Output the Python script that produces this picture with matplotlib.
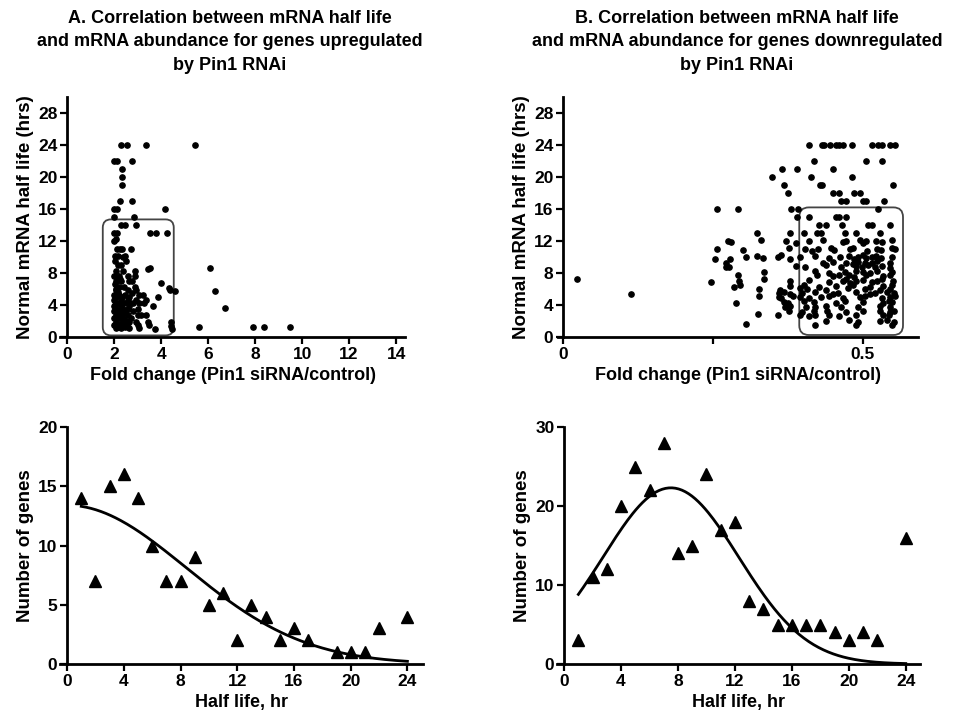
import numpy as np
import matplotlib
matplotlib.use('Agg')
import matplotlib.pyplot as plt
from matplotlib.patches import FancyBboxPatch

plt.rcParams['font.family'] = ['Liberation Sans', 'DejaVu Sans']
plt.rcParams['font.weight'] = 'bold'
plt.rcParams['axes.labelweight'] = 'bold'

# --- A (top): fold change vs half life, upregulated genes
a_fold = [2.30, 2.55, 3.35, 5.45,
          2.00, 2.12, 2.75,
          2.35, 2.35, 2.35,
          2.25, 2.75,
          2.00, 2.12, 4.15,
          2.00, 2.85,
          2.30, 2.45, 2.95,
          2.00, 2.12, 3.55, 3.80, 4.25,
          2.00, 2.10,
          2.12, 2.25, 2.35, 2.72,
          2.05, 2.18, 2.36, 2.46,
          2.05, 2.50, 2.16, 2.30,
          3.45, 3.55, 6.10,
          2.10, 2.38, 2.90,
          2.00, 2.23, 2.58, 2.90, 2.25,
          2.10, 2.30, 2.65, 2.77, 2.05,
          4.00,
          2.20, 2.44, 2.87, 2.10,
          4.35,
          2.09, 2.58, 2.94, 4.40, 2.15,
          4.60, 6.30,
          2.00, 2.23, 2.48, 3.08, 3.22, 2.75,
          2.10, 2.65, 3.86, 2.35,
          2.00, 2.30, 2.58, 2.94, 3.37, 2.60,
          2.09, 2.23, 2.44, 2.80, 3.08, 3.29,
          2.00, 2.30, 2.65, 3.65, 2.05,
          6.70,
          2.10, 2.37, 2.58, 3.00,
          2.00, 2.23, 2.48, 2.80, 2.40,
          2.09, 2.30, 2.58, 3.00, 3.15, 3.37, 2.15,
          2.00, 2.20, 2.44, 2.72, 2.50,
          2.10, 2.34, 2.65, 2.94, 3.44, 4.42,
          2.00, 2.15, 2.37, 2.55, 3.00, 3.50, 4.44, 2.45,
          2.09, 2.30, 2.65, 3.08, 3.76, 4.47, 2.20,
          5.60, 7.90, 8.40, 9.50]
a_half = [24, 24, 24, 24,
          22, 22, 22,
          21, 20, 19,
          17, 17,
          16, 16, 16,
          15, 15,
          14, 14, 14,
          13, 13, 13, 13, 13,
          12, 12.3,
          11, 11, 11, 11,
          10.1, 10.1, 10.0, 10.1,
          9.5, 9.5, 9.0, 9.0,
          8.5, 8.6, 8.6,
          8.2, 8.2, 8.2,
          7.6, 7.6, 7.6, 7.6, 7.3,
          7.0, 7.0, 7.0, 7.0, 6.6,
          6.8,
          6.3, 6.3, 6.3, 6.0,
          6.1,
          5.9, 5.9, 5.9, 5.9, 5.6,
          5.7, 5.8,
          5.3, 5.3, 5.3, 5.3, 5.3, 5.5,
          5.0, 5.0, 5.0, 5.0,
          4.6, 4.6, 4.6, 4.6, 4.6, 4.4,
          4.2, 4.2, 4.2, 4.2, 4.2, 4.2,
          3.9, 3.9, 3.9, 3.9, 4.0,
          3.6,
          3.5, 3.5, 3.5, 3.5,
          3.2, 3.2, 3.2, 3.2, 3.0,
          2.8, 2.8, 2.8, 2.8, 2.8, 2.8, 2.6,
          2.35, 2.35, 2.35, 2.35, 2.0,
          1.9, 1.9, 1.9, 1.9, 1.9, 1.9,
          1.5, 1.5, 1.5, 1.5, 1.5, 1.5, 1.4, 1.3,
          1.1, 1.1, 1.1, 1.1, 1.0, 1.0, 1.2,
          1.3, 1.3, 1.3, 1.3]

# --- B (top): fold change vs half life, downregulated genes
b_fold = [0.410, 0.432, 0.436, 0.445, 0.455, 0.460, 0.467, 0.482, 0.515, 0.526, 0.532, 0.546, 0.553,
          0.419, 0.506, 0.532,
          0.366, 0.391, 0.451,
          0.349, 0.413, 0.482,
          0.368, 0.428, 0.432, 0.551,
          0.375, 0.450, 0.460, 0.486, 0.496,
          0.464, 0.472, 0.500, 0.505, 0.536,
          0.257, 0.292, 0.381, 0.392, 0.526,
          0.391, 0.410, 0.455, 0.460, 0.472,
          0.427, 0.438, 0.466, 0.509, 0.515, 0.546,
          0.324, 0.379, 0.402, 0.424, 0.430, 0.470, 0.489, 0.528,
          0.276, 0.281, 0.330, 0.372, 0.389, 0.410, 0.433, 0.467, 0.472, 0.495, 0.500, 0.506, 0.522, 0.532, 0.548,
          0.256, 0.301, 0.377, 0.404, 0.416, 0.426, 0.447, 0.452, 0.478, 0.483, 0.507, 0.524, 0.530, 0.548, 0.554,
          0.253, 0.278, 0.305, 0.324, 0.334, 0.359, 0.364, 0.378, 0.395, 0.421, 0.444, 0.462, 0.477, 0.485,
          0.492, 0.500, 0.506, 0.515, 0.522, 0.530, 0.548,
          0.272, 0.277, 0.433, 0.450, 0.472, 0.483, 0.492, 0.503, 0.515, 0.524, 0.546,
          0.272, 0.389, 0.404, 0.438, 0.464, 0.488, 0.498, 0.509, 0.520, 0.532, 0.546,
          0.335, 0.421, 0.443, 0.470, 0.489, 0.500, 0.512, 0.523, 0.549,
          0.292, 0.424, 0.450, 0.461, 0.477, 0.486, 0.506, 0.534, 0.546,
          0.246, 0.294, 0.335, 0.378, 0.410, 0.443, 0.467, 0.472, 0.478, 0.489, 0.500, 0.516, 0.523, 0.532, 0.551,
          0.286, 0.296, 0.379, 0.402, 0.427, 0.455, 0.483, 0.512, 0.534, 0.548,
          0.327, 0.362, 0.395, 0.407, 0.438, 0.475, 0.503, 0.529, 0.545,
          0.360, 0.368, 0.378, 0.399, 0.421, 0.450, 0.458, 0.489, 0.512, 0.520, 0.540, 0.552,
          0.327, 0.361, 0.364, 0.384, 0.395, 0.410, 0.430, 0.444, 0.467, 0.495, 0.503, 0.532, 0.546, 0.554,
          0.289, 0.368, 0.375, 0.402, 0.419, 0.455, 0.470, 0.500, 0.534, 0.543, 0.549,
          0.371, 0.378, 0.406, 0.421, 0.438, 0.464, 0.492, 0.529, 0.545,
          0.325, 0.377, 0.399, 0.419, 0.440, 0.472, 0.500, 0.528, 0.546, 0.552,
          0.358, 0.396, 0.410, 0.421, 0.444, 0.461, 0.489, 0.534, 0.543,
          0.306, 0.438, 0.477, 0.492, 0.529, 0.540, 0.552,
          0.420, 0.488, 0.548,
          0.024, 0.113]
b_half = [24, 24, 24, 24, 24, 24, 24, 24, 24, 24, 24, 24, 24,
          22, 22, 22,
          21, 21, 21,
          20, 20, 20,
          19, 19, 19, 19,
          18, 18, 18, 18, 18,
          17, 17, 17, 17, 17,
          16, 16, 16, 16, 16,
          15, 15, 15, 15, 15,
          14, 14, 14, 14, 14, 14,
          13, 13, 13, 13, 13, 13, 13, 13,
          12.0, 11.9, 12.1, 12.0, 11.8, 12.0, 12.1, 11.9, 12.0, 12.1, 11.8, 12.0, 12.0, 11.9, 12.1,
          11.0, 10.9, 11.1, 11.0, 10.8, 11.0, 11.1, 10.9, 11.0, 11.1, 10.8, 11.0, 10.9, 11.1, 11.0,
          9.8, 9.7, 10.0, 10.1, 9.9, 10.0, 10.2, 9.8, 10.0, 10.1, 9.9, 10.0, 10.1, 9.8,
          10.0, 10.2, 9.9, 10.0, 10.1, 9.9, 10.0,
          9.3, 8.8, 9.2, 9.4, 9.3, 9.1, 9.4, 9.2, 9.3, 9.5, 9.2,
          8.8, 8.9, 8.7, 9.0, 8.8, 8.9, 8.7, 9.0, 8.8, 8.9, 8.6,
          8.1, 8.2, 8.0, 8.1, 8.3, 8.1, 8.0, 8.2, 8.1,
          7.8, 7.7, 7.6, 7.8, 7.7, 7.5, 7.7, 7.6, 7.8,
          6.9, 7.0, 7.2, 7.0, 7.1, 6.9, 7.0, 7.2, 6.8, 7.0, 7.1, 6.9, 7.0, 7.2, 7.0,
          6.2, 6.5, 6.4, 6.5, 6.3, 6.4, 6.5, 6.3, 6.4, 6.5,
          6.0, 5.9, 6.1, 6.0, 5.9, 6.1, 6.0, 5.9, 6.0,
          5.5, 5.6, 5.4, 5.5, 5.6, 5.4, 5.5, 5.6, 5.4, 5.5, 5.6, 5.5,
          5.1, 5.0, 4.9, 5.1, 5.0, 4.9, 5.0, 5.1, 4.9, 5.0, 5.1, 4.9, 5.0, 5.1,
          4.2, 4.4, 4.3, 4.5, 4.4, 4.3, 4.5, 4.4, 4.3, 4.5, 4.4,
          3.8, 3.9, 3.7, 3.8, 3.9, 3.7, 3.8, 3.9, 3.8,
          2.9, 3.2, 3.1, 3.3, 3.2, 3.1, 3.3, 3.2, 3.1, 3.2,
          2.7, 2.8, 2.6, 2.7, 2.8, 2.6, 2.7, 2.8, 2.7,
          1.6, 2.0, 2.1, 1.9, 2.0, 2.1, 1.9,
          1.5, 1.5, 1.5,
          7.3, 5.4]

# --- C / D (bottom): number of genes per half-life bin
c_hours = [1, 2, 3, 4, 5, 6, 7, 8, 9, 10, 11, 12, 13, 14, 15, 16, 17, 19, 20, 21, 22, 24]
c_genes = [14, 7, 15, 16, 14, 10, 7, 7, 9, 5, 6, 2, 5, 4, 2, 3, 2, 1, 1, 1, 3, 4]
d_hours = [1, 2, 3, 4, 5, 6, 7, 8, 9, 10, 11, 12, 13, 14, 15, 16, 17, 18, 19, 20, 21, 22, 24]
d_genes = [3, 11, 12, 20, 25, 22, 28, 14, 15, 24, 17, 18, 8, 7, 5, 5, 5, 5, 4, 3, 4, 3, 16]

# Gaussian fits shown as curves (amplitude, mean, sd)
c_fit = (13.4, 0.0, 8.4)
d_fit = (22.3, 7.5, 4.77)

titles = ['A. Correlation between mRNA half life\nand mRNA abundance for genes upregulated\nby Pin1 RNAi',
          'B. Correlation between mRNA half life\nand mRNA abundance for genes downregulated\nby Pin1 RNAi']


def style(ax):
    for s in ['top', 'right']:
        ax.spines[s].set_visible(False)
    ax.spines['left'].set_position(('data', 0))
    for s in ['left', 'bottom']:
        ax.spines[s].set_linewidth(2)
    ax.tick_params(direction='out', length=5, width=1.6, labelsize=12.5, pad=2)
    for lab in ax.get_xticklabels() + ax.get_yticklabels():
        lab.set_fontweight('bold')


def gauss(x, p):
    amp, mu, sd = p
    return amp * np.exp(-(x - mu) ** 2 / (2 * sd ** 2))


def main():
    fig = plt.figure(figsize=(9.68, 7.2), dpi=100)

    axA = fig.add_axes([60 / 968, 383 / 720, 345.5 / 968, 240 / 720])
    axB = fig.add_axes([558 / 968, 383 / 720, 360 / 968, 240 / 720])
    axC = fig.add_axes([60 / 968, 56 / 720, 363 / 968, 237 / 720])
    axD = fig.add_axes([557 / 968, 56 / 720, 363 / 968, 237 / 720])

    # top scatter plots
    axA.plot(a_fold, a_half, 'o', color='black', markersize=3.8, clip_on=False)
    axA.set_xlim(-0.3, 14.4)
    axA.set_ylim(0, 30)
    axA.set_xticks(range(0, 15, 2))
    axA.set_yticks(range(0, 29, 4))
    axA.add_patch(FancyBboxPatch((1.52, 0.2), 3.02, 14.5,
                                 boxstyle='round,pad=0,rounding_size=0.35',
                                 mutation_aspect=2.95, fill=False,
                                 edgecolor='#444444', linewidth=1.3))

    axB.plot(b_fold, b_half, 'o', color='black', markersize=3.8, clip_on=False)
    axB.set_xlim(-0.0083, 0.592)
    axB.set_ylim(0, 30)
    axB.set_xticks([0, 0.25, 0.5])
    axB.set_xticklabels(['0', '', '0.5'])
    axB.set_yticks(range(0, 29, 4))
    axB.add_patch(FancyBboxPatch((0.394, 0.25), 0.173, 15.95,
                                 boxstyle='round,pad=0,rounding_size=0.016',
                                 mutation_aspect=75.4, fill=False,
                                 edgecolor='#444444', linewidth=1.3))

    for ax in (axA, axB):
        ax.set_ylabel('Normal mRNA half life (hrs)', fontsize=13.5, labelpad=3)
        ax.set_xlabel('Fold change (Pin1 siRNA/control)', fontsize=13, labelpad=4)

    # bottom histograms with fitted curves
    xs = np.linspace(1, 24, 200)
    axC.plot(c_hours, c_genes, '^', color='black', markersize=8, clip_on=False)
    axC.plot(xs, gauss(xs, c_fit), color='black', linewidth=2)
    axC.set_xlim(-0.5, 25.1)
    axC.set_ylim(0, 20)
    axC.set_yticks(range(0, 21, 5))

    axD.plot(d_hours, d_genes, '^', color='black', markersize=8, clip_on=False)
    axD.plot(xs, gauss(xs, d_fit), color='black', linewidth=2)
    axD.set_xlim(-0.5, 25.0)
    axD.set_ylim(0, 30)
    axD.set_yticks(range(0, 31, 10))

    for ax in (axC, axD):
        ax.set_xticks(range(0, 25, 4))
        ax.set_ylabel('Number of genes', fontsize=13.5, labelpad=3)
        ax.set_xlabel('Half life, hr', fontsize=13, labelpad=4)

    for ax in (axA, axB, axC, axD):
        style(ax)

    fig.text(230 / 968, 1 - 10 / 720, titles[0], ha='center', va='top',
             fontsize=13, fontweight='bold', linespacing=1.5)
    fig.text(737 / 968, 1 - 10 / 720, titles[1], ha='center', va='top',
             fontsize=13, fontweight='bold', linespacing=1.5)

    fig.savefig('out.png', dpi=100)


if __name__ == "__main__":
    main()
